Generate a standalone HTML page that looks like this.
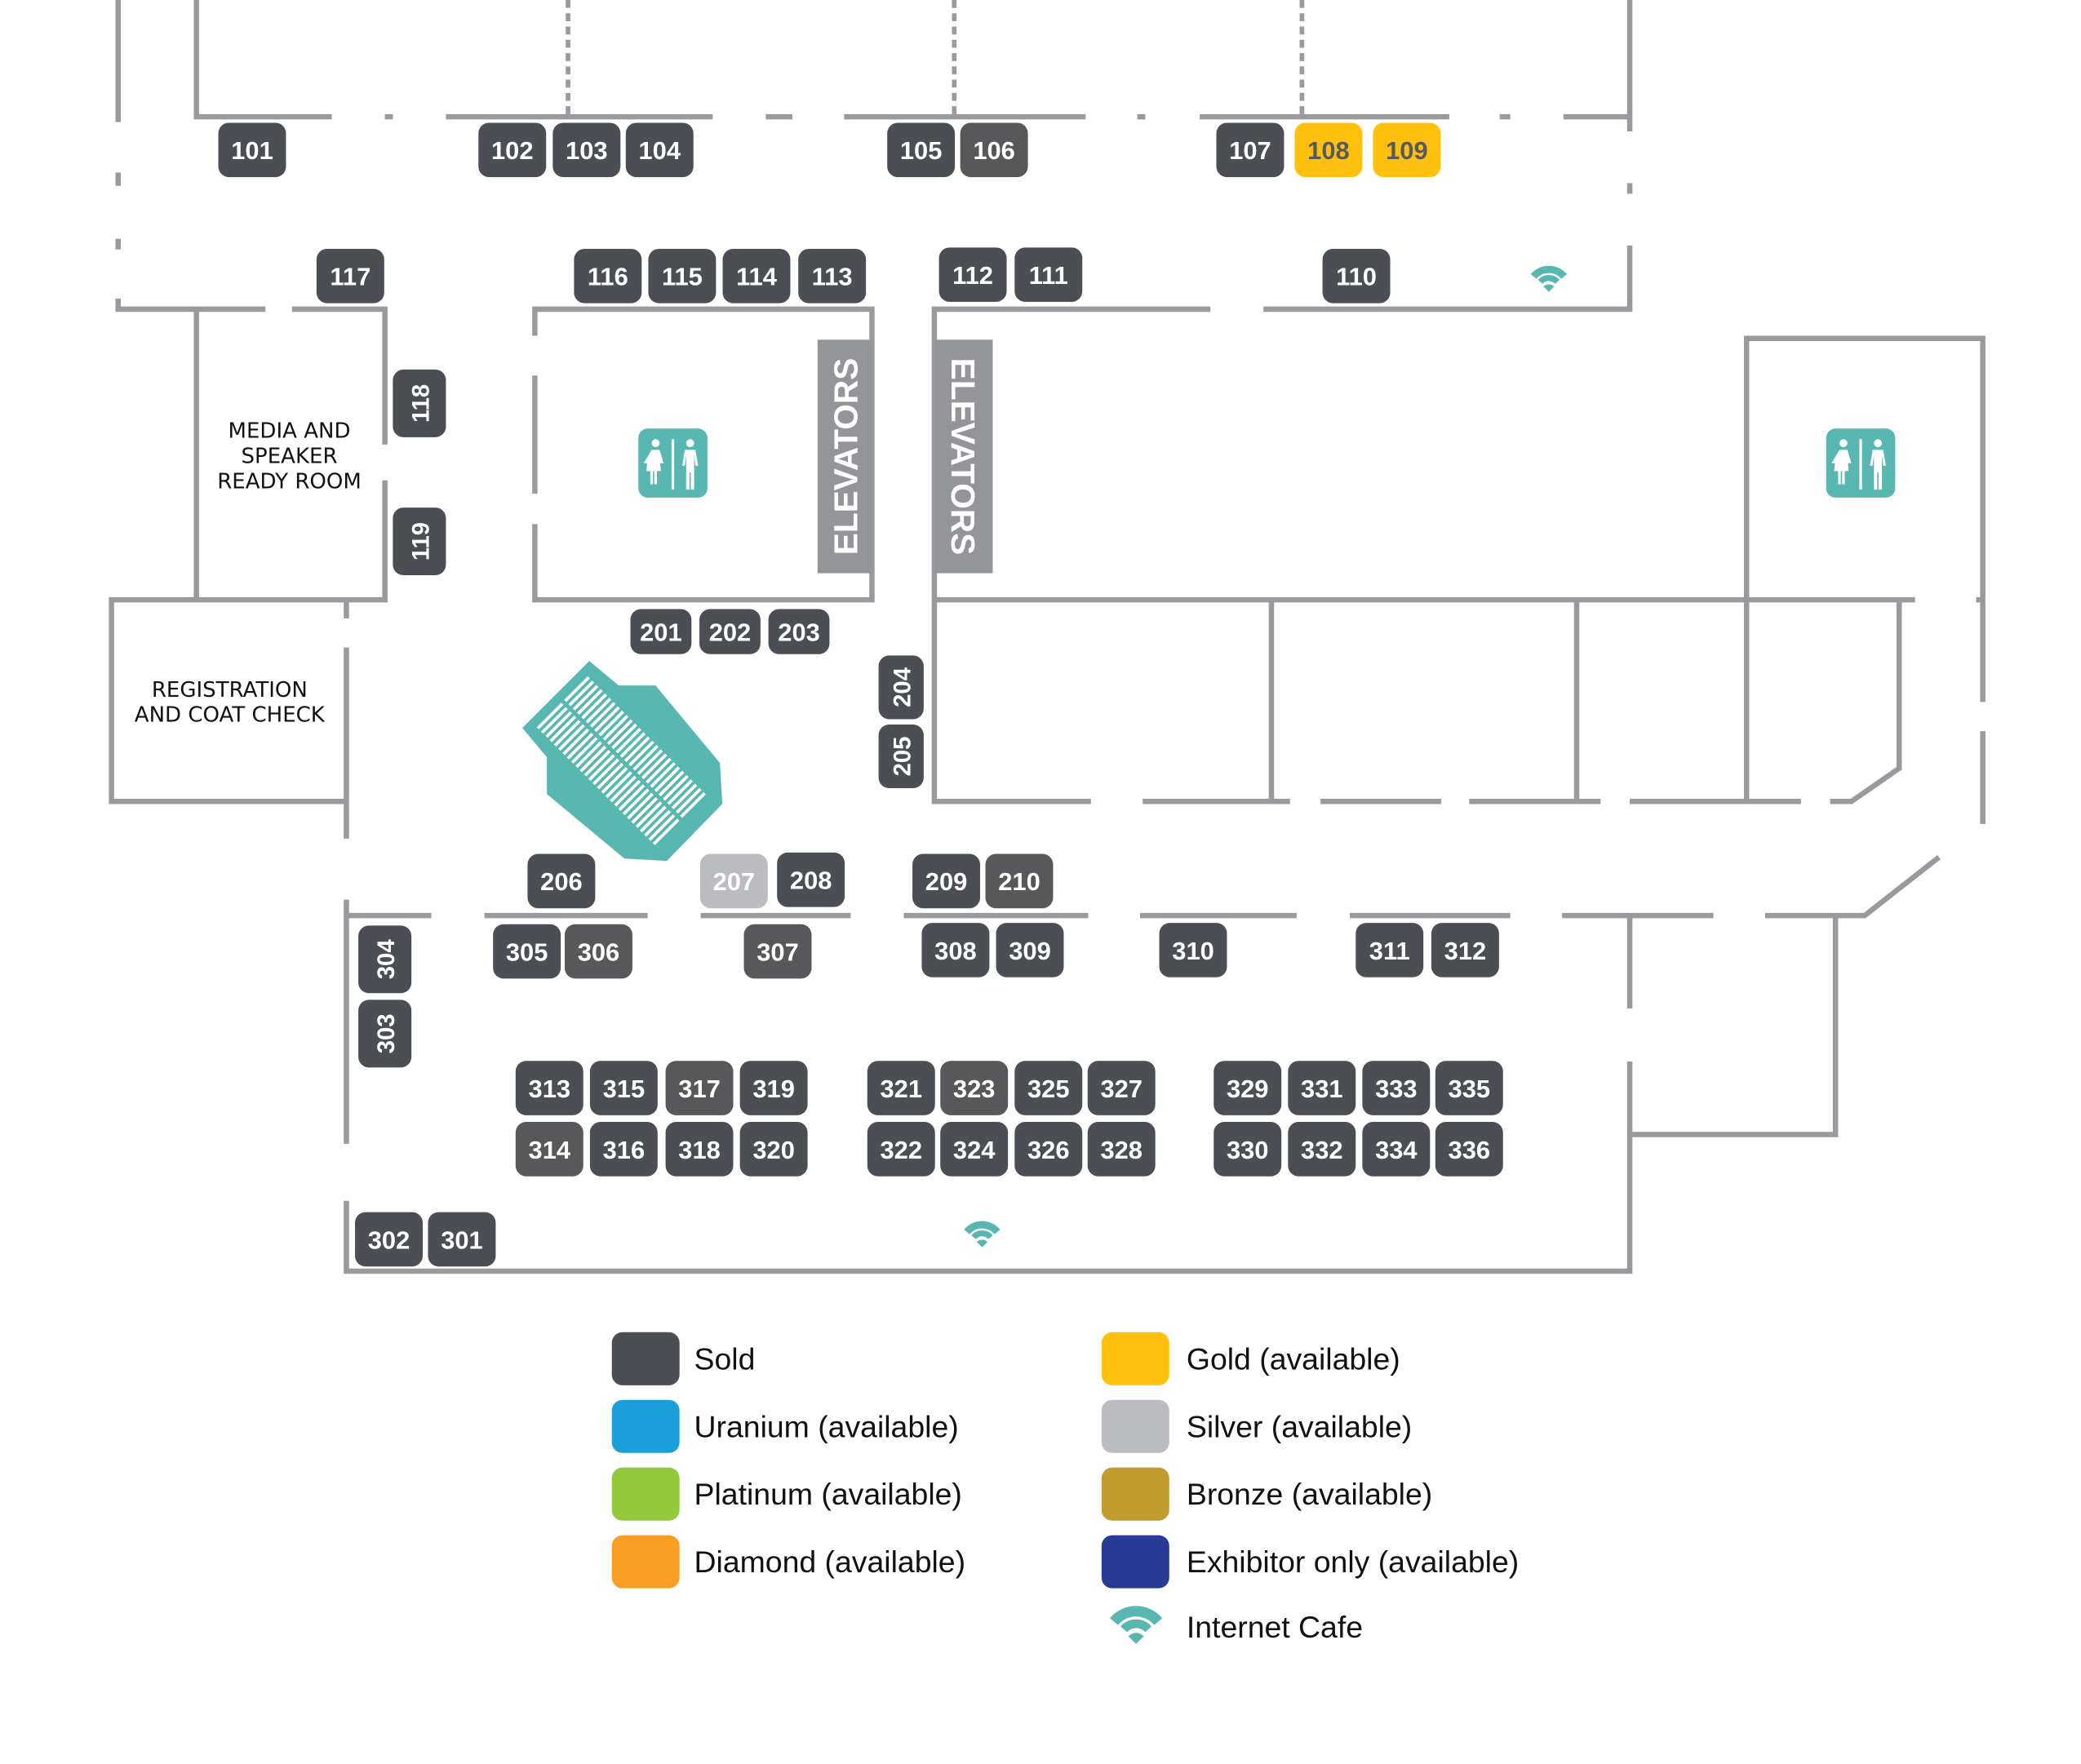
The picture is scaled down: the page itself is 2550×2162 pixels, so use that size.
<!DOCTYPE html>
<html><head><meta charset="utf-8"><style>
html,body{margin:0;padding:0;background:#fff;}
svg{display:block;}
.w{stroke:#999a9e;stroke-width:4;fill:none;}
.b text,.bt{font-family:"Liberation Sans Narrow","Liberation Sans",sans-serif;font-weight:bold;font-size:19px;fill:#fff;text-anchor:middle;}
.lbl{font-family:"DejaVu Sans","Liberation Sans",sans-serif;font-size:16px;fill:#111;text-anchor:middle;}
.lg{font-family:"Liberation Sans Narrow","Liberation Sans",sans-serif;font-size:23px;fill:#111;}
</style></head><body>
<svg width="2550" height="2162" viewBox="0 0 1568 1329.4" xmlns="http://www.w3.org/2000/svg">
<defs>
<g id="wifi"><path d="M-11.5,-9.6 A15 15 0 0 1 11.5,-9.6" stroke="#58b7b1" stroke-width="5.5" fill="none"/><path d="M-6.4,-5.6 A8.5 8.5 0 0 1 6.4,-5.6" stroke="#58b7b1" stroke-width="4.5" fill="none"/><path d="M0,2 L-4,-2 A5.5 5.5 0 0 1 4,-2 Z" fill="#58b7b1"/></g>
<g id="wc"><rect x="-26" y="-26" width="52" height="52" rx="7" fill="#58b7b1"/>
<circle cx="-13" cy="-15" r="3" fill="#fff"/><path d="M-16,-10 h6 l3,10 h-3 l0,-4 l1,10 h-3 v10 h-2 v-10 h-1 v10 h-2 v-10 h-3 l1,-10 v4 h-3z" fill="#fff"/>
<rect x="-1" y="-18" width="2" height="38" fill="#fff"/>
<circle cx="13" cy="-15" r="3" fill="#fff"/><path d="M9,-10 h8 l2,12 h-2 l-1,-8 v26 h-2.5 v-13 h-1 v13 h-2.5 v-26 l-1,8 h-2z" fill="#fff"/></g>
</defs>
<!-- walls -->
<g class="w">
<path d="M89,0 V92 M89,130 V140 M89,180 V188 M89,225 V233 H200 M220,233 H290 V335 M290,362 V452 H84 V604 H261 V488 M261,452 V466 M261,632 V604"/>
<path d="M148,0 V88 H250 M290,88 H296 M336,88 H537 M577,88 H597 M636,88 H818 M857,88 H863 M904,88 H1092 M1130,88 H1138 M1178,88 H1228 V0 M1228,88 V99 M1228,138 V146 M1228,185 V233 H952 M912,233 H704 V604 H822 M861,604 H972 M995,604 H1086 M1107,604 H1206 M1228,604 H1357 M1379,604 H1395 L1431,579 V452"/>
<path d="M148,233 V452 M403,253 V233 H657 V452 H403 V395 M403,372 V283"/>
<path d="M704,452 H1443 M1489,452 H1494 M958,452 V604 M1188,452 V604 M1316,452 V604 M1316,452 V255 H1494 V529 M1494,551 V621"/>
<path d="M261,678 V862 M261,905 V958 H1228 V800 M1228,760 V690 M1228,855 H1383 V690 M261,690 H325 M365,690 H488 M528,690 H641 M681,690 H820 M859,690 H977 M1017,690 H1138 M1177,690 H1291 M1330,690 H1405 L1461,646"/>
</g>
<g stroke="#999a9e" stroke-width="3.5" stroke-dasharray="6 4"><path d="M428,0 V86 M719,0 V86 M981,0 V86"/></g>
<!-- elevators -->
<rect x="616" y="256" width="41" height="176" fill="#939598"/>
<text transform="translate(646,344) rotate(-90)" text-anchor="middle" font-family="Liberation Sans,sans-serif" font-weight="bold" font-size="25" fill="#fff">ELEVATORS</text>
<rect x="704" y="256" width="44" height="176" fill="#939598"/>
<text transform="translate(717,344) rotate(90)" text-anchor="middle" font-family="Liberation Sans,sans-serif" font-weight="bold" font-size="25" fill="#fff">ELEVATORS</text>
<use href="#wc" x="507" y="349"/><use href="#wc" x="1402" y="349"/>
<use href="#wifi" x="1167" y="218"/><use href="#wifi" x="740" y="938"/>
<!-- stage -->
<g transform="scale(1.0053)">
<polygon fill="#58b7b1" points="441.7,495.5 463.7,513.9 491.3,513.9 539.6,572 541.4,602.6 499.8,645.4 468,643.6 409.9,595.3 409.9,567.7 391.5,545.7"/>
<g transform="translate(440.5,502.7) rotate(45)" fill="#fff" id="st"></g>
</g>
<text class="lbl" x="218" y="330">MEDIA AND</text><text class="lbl" x="218" y="349">SPEAKER</text><text class="lbl" x="218" y="368">READY ROOM</text>
<text class="lbl" x="173" y="525">REGISTRATION</text><text class="lbl" x="173" y="544">AND COAT CHECK</text>
<g id="boxes"></g>
<!-- legend -->
<g>
<rect x="461" y="1004" width="51" height="40" rx="8" fill="#4b4f54"/><text class="lg" x="523" y="1032">Sold</text>
<rect x="461" y="1055" width="51" height="40" rx="8" fill="#1a9fda"/><text class="lg" x="523" y="1083">Uranium (available)</text>
<rect x="461" y="1106" width="51" height="40" rx="8" fill="#95c93d"/><text class="lg" x="523" y="1134">Platinum (available)</text>
<rect x="461" y="1157" width="51" height="40" rx="8" fill="#f99d25"/><text class="lg" x="523" y="1185">Diamond (available)</text>
<rect x="830" y="1004" width="51" height="40" rx="8" fill="#ffc10e"/><text class="lg" x="894" y="1032">Gold (available)</text>
<rect x="830" y="1055" width="51" height="40" rx="8" fill="#bbbcbf"/><text class="lg" x="894" y="1083">Silver (available)</text>
<rect x="830" y="1106" width="51" height="40" rx="8" fill="#c29c2f"/><text class="lg" x="894" y="1134">Bronze (available)</text>
<rect x="830" y="1157" width="51" height="40" rx="8" fill="#2a3b96"/><text class="lg" x="894" y="1185">Exhibitor only (available)</text>
<g transform="translate(856,1236) scale(1.45)"><use href="#wifi"/></g><text class="lg" x="894" y="1234">Internet Cafe</text>
</g>
</svg>
<script>
var ns="http://www.w3.org/2000/svg";
var st=document.getElementById("st");
for(var i=0;i<28;i++){
 [[3,25],[31,26]].forEach(function(p){var r=document.createElementNS(ns,"rect");r.setAttribute("x",3+i*4.55);r.setAttribute("y",p[0]);r.setAttribute("width",2.3);r.setAttribute("height",p[1]);st.appendChild(r);});
}
var D="#4b4f54",G="#ffc10e",S="#bbbcbf";
var B=[
[101,190,113],[102,386,113],[103,442,113],[104,497,113],[105,694,113],[106,749,113,"#58585a"],[107,942,113],[108,1001,113,G],[109,1060,113,G],
[117,264,208],[116,458,208],[115,514,208],[114,570,208],[113,627,208],[112,733,207],[111,790,207],[110,1022,208],
[201,498,476,D,0,46,34],[202,550,476,D,0,46,34],[203,602,476,D,0,46,34],
[206,423,664],[207,553,664,S],[208,611,663],[209,713,664],[210,768,664,"#58585a"],
[305,397,717],[306,451,717,"#58585a"],[307,586,717,"#58585a"],[308,720,716],[309,776,716],[310,899,716],[311,1047,716],[312,1104,716],
[313,414,820],[315,470,820],[317,527,820,"#58585a"],[319,583,820],[321,679,820],[323,734,820,"#58585a"],[325,790,820],[327,845,820],
[329,940,820],[331,996,820],[333,1052,820],[335,1107,820],
[314,414,866,"#58585a"],[316,470,866],[318,527,866],[320,583,866],[322,679,866],[324,734,866],[326,790,866],[328,845,866],
[330,940,866],[332,996,866],[334,1052,866],[336,1107,866],
[302,293,934],[301,348,934],
[118,316,304,D,1],[119,316,408,D,1],[204,679,518,D,1,34,48],[205,679,570,D,1,34,48],[304,290,723,D,1],[303,290,779,D,1]];
var g=document.getElementById("boxes");
B.forEach(function(b){
 var c=b[3]||D,v=b[4],w=b[5]||(v?40:51),h=b[6]||(v?51:41);
 var r=document.createElementNS(ns,"rect");
 r.setAttribute("x",b[1]-w/2);r.setAttribute("y",b[2]-h/2);r.setAttribute("width",w);r.setAttribute("height",h);r.setAttribute("rx",8);r.setAttribute("fill",c);g.appendChild(r);
 var t=document.createElementNS(ns,"text");t.setAttribute("class","bt");t.textContent=b[0];
 if(c==G)t.setAttribute("style","fill:#5a5a5a");
 if(v){t.setAttribute("transform","translate("+(b[1]+7)+","+b[2]+") rotate(-90)");t.setAttribute("style","font-family:'Liberation Sans',sans-serif;font-size:18px");}
 else t.setAttribute("transform","translate("+b[1]+","+(b[2]+7)+")");
 g.appendChild(t);
});
</script>
</body></html>
